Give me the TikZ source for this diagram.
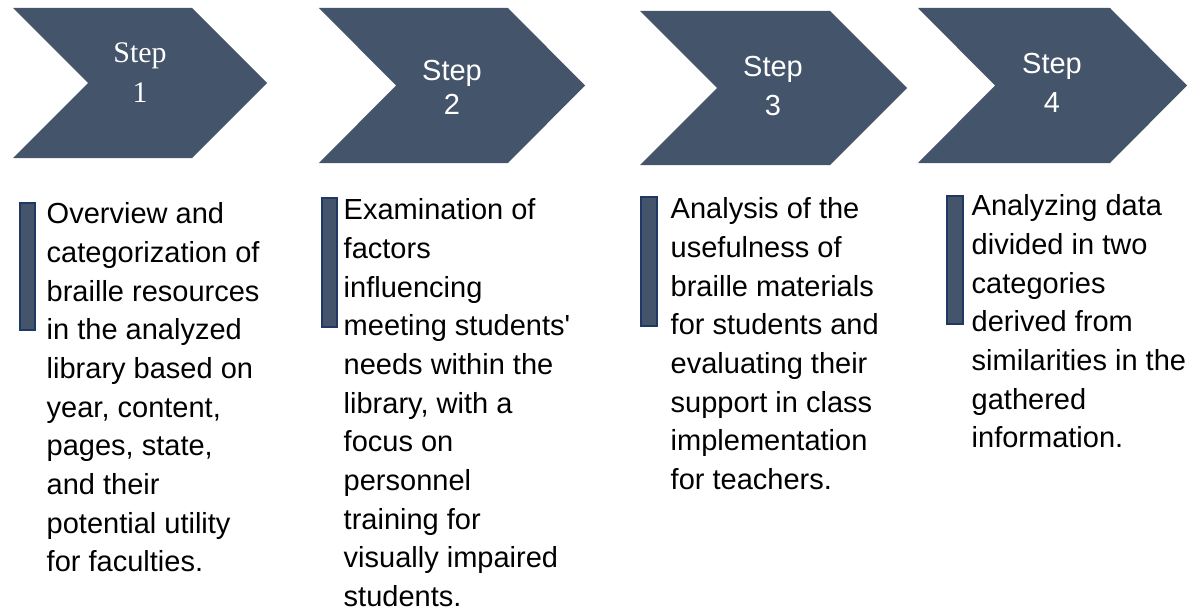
\documentclass[tikz,border=0pt]{standalone}
\usepackage{fontspec}
\newfontfamily\bodysans{Liberation Sans}
\newfontfamily\bodyserif{Liberation Serif}
\definecolor{slate}{RGB}{68,84,106}
\definecolor{navy}{RGB}{32,56,100}
\tikzset{
    chevron/.style={fill=slate, draw=none},
    steplabel/.style={text=white, align=center, anchor=north, inner sep=0mm},
    marker/.style={fill=slate, draw=navy, line width=0.45pt},
    stepnote/.style={anchor=north west, align=left, inner sep=0mm, font=\bodysans\fontsize{8.25}{11}\selectfont}
}

\begin{document}
\begin{tikzpicture}[x=0.01cm, y=-0.01cm]
    \useasboundingbox (0,0) rectangle (1199,609);

    \fill[chevron] (13,8) -- (192,8) -- (267,83) -- (192,158) -- (13,158) -- (88,83) -- cycle;
    \fill[chevron] (319,8) -- (508,8) -- (585,85.5) -- (508,163) -- (319,163) -- (396,85.5) -- cycle;
    \fill[chevron] (640,11) -- (830,11) -- (907,88) -- (830,165) -- (640,165) -- (717,88) -- cycle;
    \fill[chevron] (918,8) -- (1110,8) -- (1187,85.5) -- (1110,163) -- (918,163) -- (995,85.5) -- cycle;

    \node (s1) [steplabel, font=\bodyserif\fontsize{8.5}{11.4}\selectfont] at (140,42) {Step\\1};
    \node (s2) [steplabel, font=\bodysans\fontsize{8.25}{9.4}\selectfont] at (452,60) {Step\\2};
    \node (s3) [steplabel, font=\bodysans\fontsize{8.25}{11.1}\selectfont] at (773,56) {Step\\3};
    \node (s4) [steplabel, font=\bodysans\fontsize{8.25}{11.1}\selectfont] at (1052,53) {Step\\4};

    \draw[marker] (20,203) rectangle (35,330);
    \draw[marker] (322,198) rectangle (337,327);
    \draw[marker] (641,197) rectangle (657,326);
    \draw[marker] (947,196) rectangle (963,324);

    \node (d1) [stepnote] at (46,202) {Overview and\\categorization of\\braille resources\\in the analyzed\\library based on\\year, content,\\pages, state,\\and their\\potential utility\\for faculties.};
    \node (d2) [stepnote] at (343,198) {Examination of\\factors\\influencing\\meeting students'\\needs within the\\library, with a\\focus on\\personnel\\training for\\visually impaired\\students.};
    \node (d3) [stepnote] at (670,197) {Analysis of the\\usefulness of\\braille materials\\for students and\\evaluating their\\support in class\\implementation\\for teachers.};
    \node (d4) [stepnote] at (971,194) {Analyzing data\\divided in two\\categories\\derived from\\similarities in the\\gathered\\information.};
\end{tikzpicture}
\end{document}
